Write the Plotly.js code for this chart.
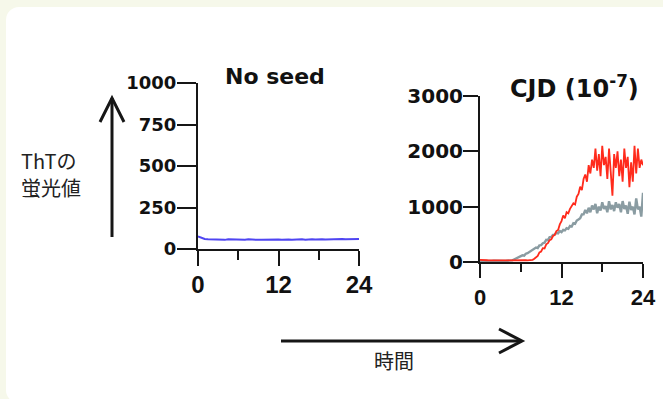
<!DOCTYPE html>
<html>
<head>
<meta charset="utf-8">
<script src="https://cdn.plot.ly/plotly-3.0.1.min.js"></script>
<style>
  html, body { margin: 0; padding: 0; width: 663px; height: 399px; overflow: hidden; background: #f6f8ea; }
  #card { position: absolute; left: 6px; top: 7px; width: 700px; height: 396px; background: #ffffff; border-radius: 13px; }
  #chart { position: absolute; left: 0; top: 0; width: 663px; height: 399px; }
</style>
</head>
<body>
<div id="card"></div>
<div id="chart"></div>
<script>
// ---- data ----
const hoursCoarse = [0,0.5,1,1.5,2,2.5,3,3.5,4,4.5,5,5.5,6,6.5,7,7.5,8,8.5,9,9.5,10,10.5,11,11.5,12,12.5,13,13.5,14,14.5,15,15.5,16,16.5,17,17.5,18,18.5,19,19.5,20,20.5,21,21.5,22,22.5,23,23.5,24];
const noSeed = [76,66,60,58,57,58,56,57,55,58,57,56,57,55,56,58,56,57,55,56,57,56,58,57,57,56,58,57,56,58,57,58,56,59,58,57,59,58,57,58,59,57,58,60,58,59,58,59,60];

const hoursFine = [0,0.25,0.5,0.75,1,1.25,1.5,1.75,2,2.25,2.5,2.75,3,3.25,3.5,3.75,4,4.25,4.5,4.75,5,5.25,5.5,5.75,6,6.25,6.5,6.75,7,7.25,7.5,7.75,8,8.25,8.5,8.75,9,9.25,9.5,9.75,10,10.25,10.5,10.75,11,11.25,11.5,11.75,12,12.25,12.5,12.75,13,13.25,13.5,13.75,14,14.25,14.5,14.75,15,15.25,15.5,15.75,16,16.25,16.5,16.75,17,17.25,17.5,17.75,18,18.25,18.5,18.75,19,19.25,19.5,19.75,20,20.25,20.5,20.75,21,21.25,21.5,21.75,22,22.25,22.5,22.75,23,23.25,23.5,23.75,24];

const cjdGray = [20,18,22,20,19,21,20,18,22,20,21,19,20,22,20,21,23,25,28,30,
  45,60,65,90,100,120,115,150,160,180,185,220,
  225,260,250,300,305,340,350,400,395,450,450,490,495,530,520,560,
  540,580,570,610,600,650,640,700,690,750,770,790,860,860,940,880,
  980,900,1020,950,1050,880,1000,930,1080,960,1010,900,1100,950,1030,920,
  1080,980,1050,900,1100,960,1020,870,1090,940,1000,860,1150,950,1000,820,1250];

const cjdRed = [40,35,30,28,32,30,27,33,30,29,31,28,30,32,29,30,31,28,30,33,29,30,32,28,31,30,29,33,30,31,35,40,
  60,95,110,175,190,250,245,320,340,395,410,470,490,560,580,680,
  740,840,790,900,880,960,1000,1060,1040,1180,1230,1360,1300,1500,1580,1450,
  1750,1600,1850,1700,2050,1650,1950,1550,2100,1750,1900,1500,2050,1600,1200,1950,
  1700,2000,1550,1850,1450,2050,1700,1900,1350,1800,1450,2100,1600,2050,1700,1850,1750];

const xTickVals = [0,12,24];
const xTickText = ['0','12','24'];
const yTickLeft = [0,250,500,750,1000];
const yTickRight = [0,1000,2000,3000];

const titleLeft = 'No seed';
const titleRight = 'CJD (10<sup>-7</sup>)';
const yLabel1 = 'ThTの';
const yLabel2 = '蛍光値';
const xLabel = '時間';

// ---- layout helpers ----
const W = 663, H = 399;
const px = v => v / W;
const py = v => 1 - v / H;

const ink = '#161616';
const axisBase = {
  showline: true, linecolor: ink, linewidth: 2,
  ticks: 'outside', tickcolor: ink, tickwidth: 2,
  showgrid: false, zeroline: false, fixedrange: true
};
const bold = (family, size) => ({ family: family, size: size, color: '#111', weight: 'bold' });

const traces = [
  { x: hoursCoarse, y: noSeed, xaxis: 'x', yaxis: 'y', mode: 'lines',
    line: { color: '#4f45f2', width: 2 }, hoverinfo: 'skip' },
  { x: hoursFine, y: cjdGray, xaxis: 'x2', yaxis: 'y2', mode: 'lines',
    line: { color: '#8a9ca2', width: 2.4 }, hoverinfo: 'skip' },
  { x: hoursFine, y: cjdRed, xaxis: 'x2', yaxis: 'y2', mode: 'lines',
    line: { color: '#ff2b1c', width: 1.8 }, hoverinfo: 'skip' }
];

const layout = {
  width: W, height: H,
  margin: { l: 0, r: 0, t: 0, b: 0 },
  paper_bgcolor: 'rgba(0,0,0,0)', plot_bgcolor: 'rgba(0,0,0,0)',
  showlegend: false,
  xaxis: Object.assign({}, axisBase, {
    domain: [px(198), px(359)], range: [0, 24], anchor: 'y',
    tickmode: 'array', tickvals: xTickVals, ticktext: xTickText, ticklen: 15,
    minor: { dtick: 6, tick0: 0, ticklen: 9, tickwidth: 2, tickcolor: ink, ticks: 'outside' },
    tickfont: bold('Liberation Sans, Arial, sans-serif', 24), ticklabelstandoff: -2
  }),
  yaxis: Object.assign({}, axisBase, {
    domain: [py(249), py(83)], range: [0, 1000], anchor: 'x',
    tickmode: 'array', tickvals: yTickLeft, ticklen: 19,
    tickfont: bold('DejaVu Sans, sans-serif', 18), ticklabelstandoff: -3
  }),
  xaxis2: Object.assign({}, axisBase, {
    domain: [px(480), px(643)], range: [0, 24], anchor: 'y2',
    tickmode: 'array', tickvals: xTickVals, ticktext: xTickText, ticklen: 14,
    minor: { dtick: 6, tick0: 0, ticklen: 8, tickwidth: 2, tickcolor: ink, ticks: 'outside' },
    tickfont: bold('Liberation Sans, Arial, sans-serif', 22), ticklabelstandoff: 1
  }),
  yaxis2: Object.assign({}, axisBase, {
    domain: [py(262), py(96)], range: [0, 3000], anchor: 'x2',
    tickmode: 'array', tickvals: yTickRight, ticklen: 15,
    tickfont: bold('DejaVu Sans, sans-serif', 20), ticklabelstandoff: -4
  }),
  annotations: [
    { text: titleLeft, xref: 'paper', yref: 'paper', x: px(275), y: py(77),
      xanchor: 'center', yanchor: 'middle', showarrow: false,
      font: bold('DejaVu Sans, sans-serif', 22) },
    { text: titleRight, xref: 'paper', yref: 'paper', x: px(574), y: py(87),
      xanchor: 'center', yanchor: 'middle', showarrow: false,
      font: bold('DejaVu Sans, sans-serif', 24) },
    { text: yLabel1, xref: 'paper', yref: 'paper', x: px(19), y: py(161),
      xanchor: 'left', yanchor: 'middle', showarrow: false,
      font: { family: 'Noto Sans CJK JP, sans-serif', size: 20, color: '#222' } },
    { text: yLabel2, xref: 'paper', yref: 'paper', x: px(19), y: py(187),
      xanchor: 'left', yanchor: 'middle', showarrow: false,
      font: { family: 'Noto Sans CJK JP, sans-serif', size: 20, color: '#222' } },
    { text: xLabel, xref: 'paper', yref: 'paper', x: px(394), y: py(360),
      xanchor: 'center', yanchor: 'middle', showarrow: false,
      font: { family: 'Noto Sans CJK JP, sans-serif', size: 20, color: '#222' } }
  ],
  shapes: [
    { type: 'line', xref: 'paper', yref: 'paper', x0: px(112), y0: py(237), x1: px(112), y1: py(98),
      line: { color: ink, width: 3 } },
    { type: 'path', xref: 'paper', yref: 'paper',
      path: `M ${px(100)},${py(122)} L ${px(112)},${py(98)} L ${px(124)},${py(122)}`,
      line: { color: ink, width: 3 } },
    { type: 'line', xref: 'paper', yref: 'paper', x0: px(281), y0: py(341), x1: px(521), y1: py(341),
      line: { color: ink, width: 3 } },
    { type: 'path', xref: 'paper', yref: 'paper',
      path: `M ${px(499)},${py(329)} L ${px(522)},${py(341)} L ${px(499)},${py(353)}`,
      line: { color: ink, width: 3 } }
  ]
};

Plotly.newPlot('chart', traces, layout, { staticPlot: true, displayModeBar: false });
</script>
</body>
</html>
